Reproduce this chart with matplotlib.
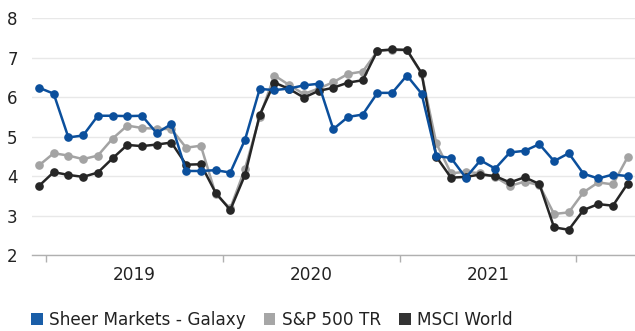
import matplotlib
matplotlib.use("Agg")
import matplotlib.pyplot as plt
from matplotlib.patches import Patch

# Monthly values, Dec 2018 .. Apr 2022
months = [f"{y}-{m:02d}" for y, m in [(2018, 12)] +
          [(y, m) for y in (2019, 2020, 2021) for m in range(1, 13)] +
          [(2022, m) for m in range(1, 5)]]

galaxy = [6.24, 6.09, 4.98, 5.03, 5.53, 5.53, 5.52, 5.53, 5.09, 5.32, 4.13, 4.13,
          4.15, 4.09, 4.92, 6.21, 6.18, 6.22, 6.30, 6.34, 5.19, 5.50, 5.56, 6.11,
          6.11, 6.55, 6.09, 4.51, 4.46, 3.96, 4.40, 4.19, 4.60, 4.64, 4.81, 4.38,
          4.58, 4.06, 3.94, 4.04, 4.00]
sp500 = [4.27, 4.58, 4.52, 4.43, 4.52, 4.95, 5.28, 5.22, 5.20, 5.19, 4.72, 4.77,
         3.55, 3.18, 4.19, 5.50, 6.55, 6.31, 6.08, 6.22, 6.38, 6.59, 6.65, 7.17,
         7.20, 7.19, 6.60, 4.83, 4.07, 4.11, 4.07, 3.98, 3.75, 3.86, 3.77, 3.04,
         3.08, 3.59, 3.84, 3.79, 4.48]
msci = [3.75, 4.10, 4.03, 3.98, 4.09, 4.45, 4.79, 4.76, 4.80, 4.85, 4.29, 4.30,
        3.58, 3.14, 4.03, 5.55, 6.37, 6.21, 5.99, 6.16, 6.24, 6.37, 6.43, 7.18,
        7.21, 7.20, 6.61, 4.49, 3.96, 3.98, 4.04, 4.00, 3.84, 3.97, 3.80, 2.70,
        2.64, 3.14, 3.29, 3.25, 3.81]

series_names = ["Sheer Markets - Galaxy", "S&P 500 TR", "MSCI World"]
year_labels = ["2019", "2020", "2021"]
y_ticks = [2, 3, 4, 5, 6, 7, 8]

line_colors = ["#0b4f9c", "#a3a3a3", "#262626"]
legend_colors = ["#1a5ea8", "#a6a6a6", "#333333"]
text_color = "#222222"

plt.rcParams["font.family"] = ["DejaVu Sans"]

fig = plt.figure(figsize=(6.35, 3.31), dpi=100)
ax = fig.add_axes([31.6 / 635, 76 / 331, 1 - 31.6 / 635, (255 - 18.3) / 331])

x = list(range(len(months)))
for vals, color, z in [(sp500, line_colors[1], 3), (msci, line_colors[2], 4),
                       (galaxy, line_colors[0], 5)]:
    ax.plot(x, vals, color=color, lw=1.8, marker="o", ms=5.2,
            zorder=z, clip_on=False, solid_joinstyle="round")

ax.set_xlim(-0.5, len(months) - 0.5)
ax.set_ylim(2, 8)
ax.set_yticks(y_ticks)
ax.yaxis.grid(True, color="#e8e8e8", lw=1)
ax.set_axisbelow(True)
ax.tick_params(axis="y", length=0, pad=10, labelsize=12, labelcolor=text_color)

# year boundaries as tick marks, year names centred between them
boundaries = [i - 0.5 for i, m in enumerate(months) if m.endswith("-01")]
ax.set_xticks(boundaries)
ax.set_xticklabels([])
ax.set_xticks([b + 6 for b in boundaries[:len(year_labels)]], minor=True)
ax.set_xticklabels(year_labels, minor=True)
ax.tick_params(axis="x", which="major", length=5, width=1, color="#b0b0b0")
ax.tick_params(axis="x", which="minor", length=0, pad=8, labelsize=12.2,
               labelcolor=text_color)

for side in ("left", "right", "top"):
    ax.spines[side].set_visible(False)
ax.spines["bottom"].set_color("#b0b0b0")
ax.spines["bottom"].set_linewidth(1)

handles = [Patch(facecolor=c, edgecolor="none") for c in legend_colors]
fig.legend(handles, series_names, loc="center left",
           bbox_to_anchor=(31 / 635, 11 / 331), ncol=3, frameon=False,
           fontsize=12.2, handlelength=0.68, handleheight=0.68,
           handletextpad=0.4, columnspacing=1.05, borderpad=0,
           borderaxespad=0, labelcolor=text_color)

fig.savefig("out.png", dpi=100)
